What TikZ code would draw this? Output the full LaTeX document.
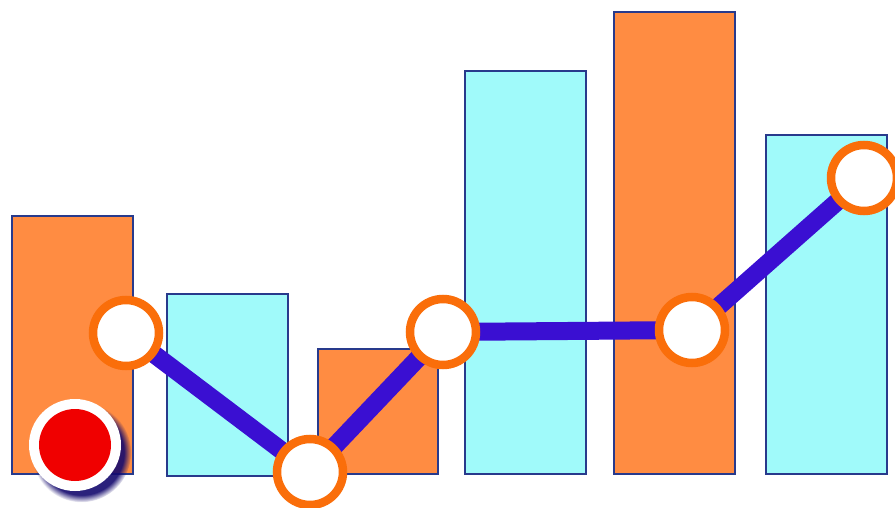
\documentclass[tikz,border=0pt]{standalone}
\usepackage{xcolor}
\usetikzlibrary{shadows}
\definecolor{bar-orange}{RGB}{255, 140, 66}
\definecolor{bar-cyan}{RGB}{160, 250, 250}
\definecolor{bar-edge}{RGB}{40, 58, 140}
\definecolor{ring-orange}{RGB}{250, 110, 10}
\definecolor{line-blue}{RGB}{58, 15, 210}
\definecolor{dot-red}{RGB}{240, 0, 0}
\definecolor{shadow-blue}{RGB}{20, 10, 110}
\tikzset{
  point/.style={circle, draw=ring-orange, line width=8.5pt, fill=white,
    minimum size=66pt, inner sep=0pt},
  link/.style={line-blue, line width=18pt}
}

\begin{document}
\begin{tikzpicture}[x=1pt, y=-1pt]
\useasboundingbox (0,0) rectangle (895,508);
\fill[white] (0,0) rectangle (895,508);
\filldraw[fill=bar-orange, draw=bar-edge, line width=1.5pt] (12,216) rectangle (133,474);
\filldraw[fill=bar-cyan, draw=bar-edge, line width=1.5pt] (167,294) rectangle (288,476);
\filldraw[fill=bar-orange, draw=bar-edge, line width=1.5pt] (318,349) rectangle (438,474);
\filldraw[fill=bar-cyan, draw=bar-edge, line width=1.5pt] (465,71) rectangle (586,474);
\filldraw[fill=bar-orange, draw=bar-edge, line width=1.5pt] (614,12) rectangle (735,474);
\filldraw[fill=bar-cyan, draw=bar-edge, line width=1.5pt] (766,135) rectangle (887,474);
% the line and its points
\coordinate (p1) at (126,333);
\coordinate (p2) at (310,472);
\coordinate (p3) at (443,332);
\coordinate (p4) at (692,330);
\coordinate (p5) at (864,178);
\draw[link] (p1) -- (p2) -- (p3) -- (p4) -- (p5);
\node[point] (a) at (p1) {};
\node[point] (b) at (p2) {};
\node[point] (c) at (p3) {};
\node[point] (d) at (p4) {};
\node[point] (e) at (p5) {};
% the red dot
\node[circle, fill=white, minimum size=92pt, inner sep=0pt,
  circular drop shadow={shadow xshift=6pt, shadow yshift=-7pt, shadow scale=1.08, fill=shadow-blue, opacity=0.9}] (dot) at (75,445) {};
\node[circle, fill=dot-red, minimum size=72pt, inner sep=0pt] (core) at (dot) {};
\end{tikzpicture}
\end{document}
